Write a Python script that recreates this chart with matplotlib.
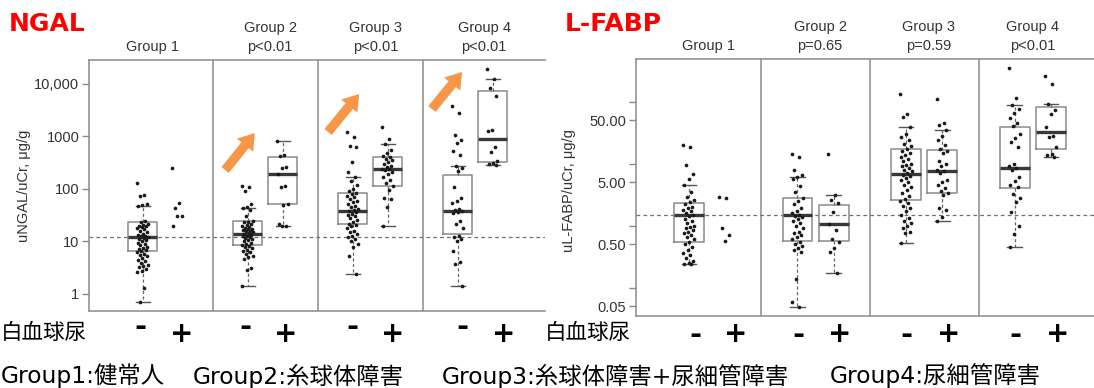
import numpy as np
import matplotlib
matplotlib.use("Agg")
import matplotlib.pyplot as plt
from matplotlib.ticker import FixedLocator, NullLocator

# -----------------------------
# Data
# order: G1-, G1+, G2-, G2+, G3-, G3+, G4-, G4+
# -----------------------------
ngal_q1 = [6.5, np.nan, 8.5, 52, 21.5, 113, 14.1, 327]
ngal_med = [12.0, np.nan, 14.1, 193, 38, 243, 38.6, 908]
ngal_q3 = [23.5, np.nan, 24.3, 413, 84, 400, 187, 7280]
ngal_lo = [0.70, np.nan, 1.44, 19.5, 2.4, 19.5, 1.44, 282]
ngal_hi = [48, np.nan, 43, 810, 167, 720, 278, 12600]

ngal_g1_neg = [130, 78, 72, 52, 49, 47, 25, 23, 22, 21, 20, 19.5, 19, 18, 17, 16, 15, 14,
               13.5, 13, 12.5, 12, 11.5, 11, 10.5, 10, 9.5, 9, 8.5, 8, 7.6, 7.2, 6.8, 6.5,
               6.2, 5.8, 5.5, 5.2, 4.8, 4.5, 4.2, 3.9, 3.6, 3.4, 3.2, 3.0, 2.8, 2.6, 1.3, 0.70]
ngal_g1_pos = [255, 55, 43, 31, 30, 19.5]
ngal_g2_neg = [114, 108, 92, 52, 46, 43, 40, 30, 25, 24, 23, 22, 21, 20, 19, 18, 17.5, 17,
               16.5, 16, 15.5, 15, 14.5, 14, 13.5, 13, 12.5, 12, 11.5, 11, 10.5, 10, 9.5, 9,
               8.6, 8.2, 7.8, 7.4, 7, 6.6, 6.2, 5.8, 5.4, 5, 4.6, 3.1, 2.9, 1.44]
ngal_g2_pos = [810, 445, 420, 263, 250, 193, 113, 110, 52, 50, 22, 20, 19.5]
ngal_g3_neg = [1200, 960, 650, 620, 330, 214, 167, 140, 120, 100, 90, 84, 80, 75, 70, 65,
               60, 56, 52, 48, 45, 42, 40, 38, 36, 34, 32, 30, 28, 26, 24, 22, 21, 20, 18,
               16, 15, 14, 13, 12, 11, 10, 9, 8, 5.3, 2.4]
ngal_g3_pos = [1540, 910, 720, 560, 480, 420, 400, 380, 350, 320, 300, 280, 260, 245, 240,
               230, 210, 190, 170, 150, 130, 115, 96, 67, 64, 45, 19.5]
ngal_g4_neg = [3860, 2770, 1050, 840, 760, 525, 445, 278, 250, 220, 109, 68, 60, 55, 42, 40,
               38, 36, 35, 25, 22, 18, 13, 12, 11, 10, 6.6, 4.0, 3.8, 1.44]
ngal_g4_pos = [19600, 12600, 8400, 6000, 1330, 1270, 630, 500, 340, 310, 295, 282]

fabp_q1 = [0.54, np.nan, 0.57, 0.57, 2.54, 3.41, 4.05, 17.2]
fabp_med = [1.47, np.nan, 1.47, 1.05, 6.8, 7.5, 8.4, 32.3]
fabp_q3 = [2.32, np.nan, 2.83, 2.11, 17.2, 16.4, 39.4, 80.7]
fabp_lo = [0.237, np.nan, 0.049, 0.17, 0.52, 1.2, 0.45, 13.0]
fabp_hi = [4.47, np.nan, 6.0, 3.17, 38.9, 34.7, 89, 92.5]

fabp_g1_neg = [20.2, 18.5, 9.4, 6.9, 5.6, 4.47, 3.5, 2.9, 2.6, 2.4, 2.2, 2.0, 1.9, 1.8, 1.7,
               1.6, 1.5, 1.45, 1.3, 1.2, 1.1, 1.0, 0.95, 0.9, 0.85, 0.8, 0.75, 0.7, 0.65,
               0.6, 0.55, 0.5, 0.45, 0.4, 0.36, 0.33, 0.3, 0.27, 0.25, 0.24, 0.237]
fabp_g1_pos = [2.9, 2.75, 0.9, 0.70, 0.56]
fabp_g2_neg = [14.1, 12.6, 7.8, 6.5, 6.0, 5.6, 4.4, 3.5, 2.8, 2.5, 2.2, 1.9, 1.7, 1.6, 1.5,
               1.45, 1.4, 1.3, 1.2, 1.1, 1.0, 0.9, 0.8, 0.75, 0.7, 0.65, 0.6, 0.55, 0.5,
               0.47, 0.44, 0.41, 0.38, 0.14, 0.059, 0.049]
fabp_g2_pos = [14.3, 3.17, 2.6, 2.3, 1.66, 1.05, 0.85, 0.6, 0.55, 0.43, 0.38, 0.17]
fabp_g3_neg = [135, 64, 56, 38.9, 30, 27, 24, 21, 19, 17, 16, 15, 14, 13, 12, 11, 10, 9.5, 9,
               8.5, 8, 7.5, 7, 6.6, 6.2, 5.8, 5.4, 5, 4.6, 4.2, 3.8, 3.4, 3.0, 2.7, 2.5,
               2.3, 2.1, 1.9, 1.7, 1.5, 1.35, 1.2, 1.1, 1.0, 0.9, 0.8, 0.75, 0.52]
fabp_g3_pos = [111, 45, 42, 34.7, 28, 24, 20, 17, 16, 15, 11, 10, 9, 8, 7.5, 7, 5.5, 5, 4.5,
               4, 3.6, 3.3, 3.1, 1.9, 1.8, 1.4, 1.2]
fabp_g4_neg = [346, 114, 89, 75, 65, 55, 45, 40, 30, 26, 22, 18.5, 10, 9.2, 8.5, 8.0, 6, 5.2,
               4.6, 4.2, 3.2, 2.8, 2.4, 1.66, 1.0, 0.72, 0.45]
fabp_g4_pos = [261, 191, 92.5, 72, 64, 39, 28, 27, 18.5, 14.5, 14, 13]

ngal_ref = 12.2
fabp_ref = 1.47

ngal_titles = ["Group 1", "Group 2\np<0.01", "Group 3\np<0.01", "Group 4\np<0.01"]
fabp_titles = ["Group 1", "Group 2\np=0.65", "Group 3\np=0.59", "Group 4\np<0.01"]
group_notes = ["Group1:健常人", "Group2:糸球体障害", "Group3:糸球体障害+尿細管障害", "Group4:尿細管障害"]

ngal_points = [ngal_g1_neg, ngal_g1_pos, ngal_g2_neg, ngal_g2_pos,
               ngal_g3_neg, ngal_g3_pos, ngal_g4_neg, ngal_g4_pos]
fabp_points = [fabp_g1_neg, fabp_g1_pos, fabp_g2_neg, fabp_g2_pos,
               fabp_g3_neg, fabp_g3_pos, fabp_g4_neg, fabp_g4_pos]

# -----------------------------
# Figure
# -----------------------------
W, H = 1094, 388
fig = plt.figure(figsize=(W / 100, H / 100), dpi=100)
fig.patch.set_facecolor("white")

def px(x, y):
    return x / W, 1 - y / H

def frame(l, t, r, b):
    return [l / W, 1 - b / H, (r - l) / W, (b - t) / H]

spine_col = "#8a8a8a"
box_col = "#8a8a8a"
text_col = "#333333"
orange = "#F79646"
positions = [-0.5, 0.5, 2.5, 3.5, 5.5, 6.5, 8.5, 9.5]


def draw_panel(ax, q1, med, q3, lo, hi, points):
    stats, pos = [], []
    for i in range(len(med)):
        if np.isnan(med[i]):
            continue
        stats.append(dict(med=med[i], q1=q1[i], q3=q3[i],
                          whislo=lo[i], whishi=hi[i], fliers=[]))
        pos.append(positions[i])
    ax.bxp(stats, positions=pos, widths=0.82, capwidths=0.4, showfliers=False,
           manage_ticks=False,
           boxprops=dict(color=box_col, lw=1.1),
           medianprops=dict(color="#383838", lw=2.4),
           whiskerprops=dict(color="#666666", lw=0.9, ls=(0, (2.5, 2))),
           capprops=dict(color="#555555", lw=1.0))
    for p, vals in zip(positions, points):
        n = len(vals)
        jit = ((np.arange(n) * 0.618034) % 1 - 0.5) * 0.32
        ax.scatter(p + jit, vals, s=7, color="#1a1a1a", lw=0, zorder=4)
    for xs in [1.5, 4.5, 7.5]:
        ax.axvline(xs, color=spine_col, lw=1.1, zorder=1)
    ax.set_yscale("log")
    ax.set_xticks([])
    for s in ["left", "top", "bottom"]:
        ax.spines[s].set_color(spine_col)
        ax.spines[s].set_linewidth(1.1)
    ax.spines["right"].set_visible(False)
    ax.tick_params(axis="y", which="both", length=5, width=1, color=spine_col,
                   labelcolor=text_col, labelsize=10.5, pad=2)


# ---- NGAL panel ----
ax1 = fig.add_axes(frame(89, 60, 545, 311))
draw_panel(ax1, ngal_q1, ngal_med, ngal_q3, ngal_lo, ngal_hi, ngal_points)
ax1.axhline(ngal_ref, color="#707070", lw=0.9, ls=(0, (3, 2.5)), zorder=1)
ax1.set_xlim(-2.03, 11.0)
ax1.set_ylim(0.474, 28640)
ax1.yaxis.set_major_locator(FixedLocator([1, 10, 100, 1000, 10000]))
ax1.yaxis.set_minor_locator(NullLocator())
ax1.set_yticklabels(["1", "10", "100", "1000", "10,000"], fontfamily="Liberation Sans")

# orange arrows (tail -> tip, data coords)
for tail, tip in [((1.86, 230), (2.71, 1166)),
                  ((4.80, 1219), (5.69, 6450)),
                  ((7.77, 3340), (8.63, 16940))]:
    ax1.annotate("", xy=tip, xytext=tail,
                 arrowprops=dict(arrowstyle="simple,head_length=0.75,head_width=1.0,tail_width=0.45",
                                 color=orange, lw=0, shrinkA=0, shrinkB=0,
                                 mutation_scale=15))

# ---- L-FABP panel ----
ax2 = fig.add_axes(frame(636, 58.5, 1094, 316))
draw_panel(ax2, fabp_q1, fabp_med, fabp_q3, fabp_lo, fabp_hi, fabp_points)
ax2.axhline(fabp_ref, color="#707070", lw=0.9, ls=(0, (3, 2.5)), zorder=1)
ax2.set_xlim(-1.96, 10.69)
ax2.set_ylim(0.0348, 496)
ax2.yaxis.set_major_locator(FixedLocator([0.05, 0.1, 0.5, 1, 5, 10, 50, 100]))
ax2.yaxis.set_minor_locator(NullLocator())
ax2.set_yticklabels(["0.05", "", "0.50", "", "5.00", "", "50.00", ""],
                    fontfamily="Liberation Sans")

# -----------------------------
# Text
# -----------------------------
fig.text(*px(9, 31), "NGAL", color="#FF0000", fontsize=18, fontweight="bold",
         family="DejaVu Sans", va="baseline", ha="left")
fig.text(*px(565, 31), "L-FABP", color="#FF0000", fontsize=18, fontweight="bold",
         family="DejaVu Sans", va="baseline", ha="left")

fig.text(*px(24, 186), "uNGAL/uCr, μg/g", rotation=90, ha="center", va="center",
         fontsize=10.5, color=text_col, family="Liberation Sans")
fig.text(*px(569, 191), "uL-FABP/uCr, μg/g", rotation=90, ha="center", va="center",
         fontsize=10.5, color=text_col, family="Liberation Sans")

for xc, t in zip([153, 270, 375.5, 484], ngal_titles):
    fig.text(*px(xc, 51), t, ha="center", va="baseline", fontsize=10.5,
             color=text_col, family="Liberation Sans", linespacing=1.45)
for xc, t in zip([708, 820, 929, 1032.5], fabp_titles):
    fig.text(*px(xc, 50), t, ha="center", va="baseline", fontsize=10.5,
             color=text_col, family="Liberation Sans", linespacing=1.45)

cjk = ["Noto Sans CJK JP", "DejaVu Sans"]
latin_cjk = ["DejaVu Sans", "Noto Sans CJK JP"]

fig.text(*px(1, 333), "白血球尿", ha="left", va="center", fontsize=15.5,
         family=cjk, color="black")
fig.text(*px(631, 333), "白血球尿", ha="right", va="center", fontsize=15.5,
         family=cjk, color="black")

for xm in [140, 245, 352, 462]:
    fig.text(*px(xm, 327), "-", ha="center", va="center", fontsize=21,
             fontweight="bold", family="DejaVu Sans", color="black")
for xm in [695, 798, 906, 1015]:
    fig.text(*px(xm, 335), "-", ha="center", va="center", fontsize=21,
             fontweight="bold", family="DejaVu Sans", color="black")
for xp in [182, 286, 393, 504, 736, 840, 949, 1058]:
    fig.text(*px(xp, 334), "+", ha="center", va="center", fontsize=20,
             fontweight="bold", family="DejaVu Sans", color="black")

for xl, t in zip([1, 193, 442, 830], group_notes):
    fig.text(*px(xl, 376), t, ha="left", va="center", fontsize=16.8,
             family=latin_cjk, color="black")

fig.savefig("out.png", dpi=100, facecolor="white")
